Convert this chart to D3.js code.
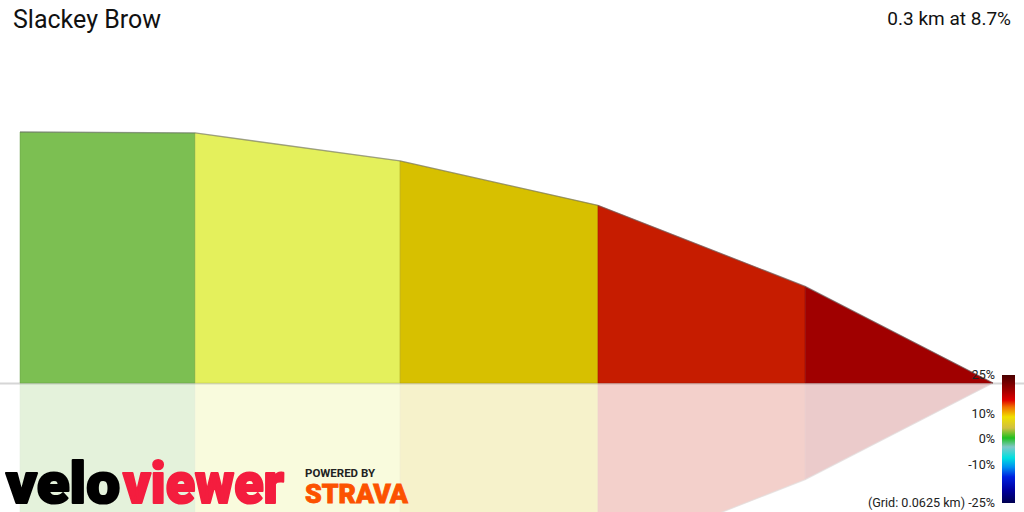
<!DOCTYPE html>
<html>
<head>
<meta charset="utf-8">
<script src="https://cdn.jsdelivr.net/npm/d3@7"></script>
<style>
  html, body { margin: 0; padding: 0; background: #fff; }
  svg { display: block; }
</style>
</head>
<body>
<svg id="chart" width="1024" height="512"></svg>
<script>
// ---- data ----
const title = "Slackey Brow";
const summary = "0.3 km at 8.7%";
const distKm = [0, 0.054, 0.1172, 0.1782, 0.2421, 0.300];
const elevM = [198.0, 197.9, 195.0, 190.4, 182.0, 172.0];
const segmentColors = ["#7cbf52", "#e4f05c", "#d7c000", "#c61c00", "#a00000"];
const legendTicks = [25, 10, 0, -10, -25];
const legendTickLabels = ["25%", "10%", "0%", "-10%", "(Grid: 0.0625 km) -25%"];
const legendStopPct = [25, 19, 15.2, 12.5, 8.6, 4.3, 0.4, -3.1, -7.4, -11, -14.8, -19.9, -25];
const legendStopColors = ["#4a0000", "#a00000", "#e00000", "#f07000", "#f0e000", "#d0c040", "#20c020", "#80c8c8", "#00e0e0", "#0090f0", "#0020e0", "#0000a0", "#000050"];

// ---- layout ----
const W = 1024, H = 512;
const svg = d3.select("#chart");
const x = d3.scaleLinear().domain([0, 0.3]).range([20, 993]);
const y = d3.scaleLinear().domain([172, 198]).range([383, 132]);
const baseY = y(172);

// baseline
svg.append("line")
  .attr("x1", 0).attr("x2", W)
  .attr("y1", baseY + 0.5).attr("y2", baseY + 0.5)
  .attr("stroke", "#d6d6d6").attr("stroke-width", 2);

const segs = d3.range(distKm.length - 1).map(i => ({
  x0: distKm[i], x1: distKm[i + 1], e0: elevM[i], e1: elevM[i + 1], c: segmentColors[i]
}));

const area = d3.area().x(d => x(d[0])).y0(baseY).y1(d => y(d[1]));

function drawProfile(g) {
  g.selectAll("path.seg").data(segs).join("path")
    .attr("class", "seg")
    .attr("d", s => area([[s.x0, s.e0], [s.x1, s.e1]]))
    .attr("fill", s => s.c)
    .attr("stroke", s => d3.color(s.c).darker(0.6))
    .attr("stroke-opacity", 0.45)
    .attr("stroke-width", 1);
  g.append("path")
    .attr("d", d3.line().x((d, i) => x(distKm[i])).y(d => y(d))(elevM))
    .attr("fill", "none")
    .attr("stroke", "#6b6b6b")
    .attr("stroke-opacity", 0.55)
    .attr("stroke-width", 1.3);
}

// reflection
const refl = svg.append("g")
  .attr("transform", `translate(0,${2 * baseY}) scale(1,-1)`)
  .attr("opacity", 0.2);
drawProfile(refl);

// main profile
const main = svg.append("g");
drawProfile(main);

// title texts
svg.append("text")
  .attr("x", 13).attr("y", 28)
  .attr("font-family", "Roboto, sans-serif")
  .attr("font-size", 25)
  .attr("fill", "#111")
  .text(title);
svg.append("text")
  .attr("x", 1011).attr("y", 25)
  .attr("text-anchor", "end")
  .attr("font-family", "Roboto, sans-serif")
  .attr("font-size", 19)
  .attr("fill", "#111")
  .text(summary);

// legend color bar
const ly = d3.scaleLinear().domain([25, -25]).range([375, 503]);
const defs = svg.append("defs");
const grad = defs.append("linearGradient")
  .attr("id", "gradbar")
  .attr("x1", 0).attr("x2", 0).attr("y1", 0).attr("y2", 1);
grad.selectAll("stop").data(legendStopPct).join("stop")
  .attr("offset", p => (ly(p) - 375) / (503 - 375))
  .attr("stop-color", (p, i) => legendStopColors[i]);
svg.append("rect")
  .attr("x", 1002).attr("y", ly(25))
  .attr("width", 13).attr("height", ly(-25) - ly(25))
  .attr("fill", "url(#gradbar)");

svg.selectAll("text.lt").data(legendTicks).join("text")
  .attr("class", "lt")
  .attr("x", 995)
  .attr("y", d => ly(d))
  .attr("dy", "0.35em")
  .attr("text-anchor", "end")
  .attr("font-family", "Roboto, sans-serif")
  .attr("font-size", 12.6)
  .attr("fill", "#222")
  .text((d, i) => legendTickLabels[i]);

// logo
function logoPart(txt, x0, len, col) {
  svg.append("text")
    .attr("x", x0).attr("y", 503)
    .attr("font-family", "Roboto, 'DejaVu Sans', sans-serif")
    .attr("font-weight", 900)
    .attr("font-size", 58)
    .attr("textLength", len).attr("lengthAdjust", "spacingAndGlyphs")
    .attr("fill", col)
    .attr("stroke", col).attr("stroke-width", 2.2).attr("stroke-linejoin", "round")
    .text(txt);
}
logoPart("velo", 6, 114, "#000");
logoPart("viewer", 123, 161, "#f41d3e");

svg.append("text")
  .attr("x", 305).attr("y", 477)
  .attr("font-family", "Roboto, sans-serif")
  .attr("font-weight", "bold")
  .attr("font-size", 10.5)
  .attr("textLength", 70).attr("lengthAdjust", "spacingAndGlyphs")
  .attr("fill", "#222")
  .text("POWERED BY");
svg.append("text")
  .attr("x", 305).attr("y", 503)
  .attr("font-family", "Roboto, sans-serif")
  .attr("font-weight", 900)
  .attr("font-size", 25)
  .attr("textLength", 103).attr("lengthAdjust", "spacingAndGlyphs")
  .attr("fill", "#fc5200")
  .attr("stroke", "#fc5200").attr("stroke-width", 0.8)
  .text("STRAVA");
</script>
</body>
</html>
